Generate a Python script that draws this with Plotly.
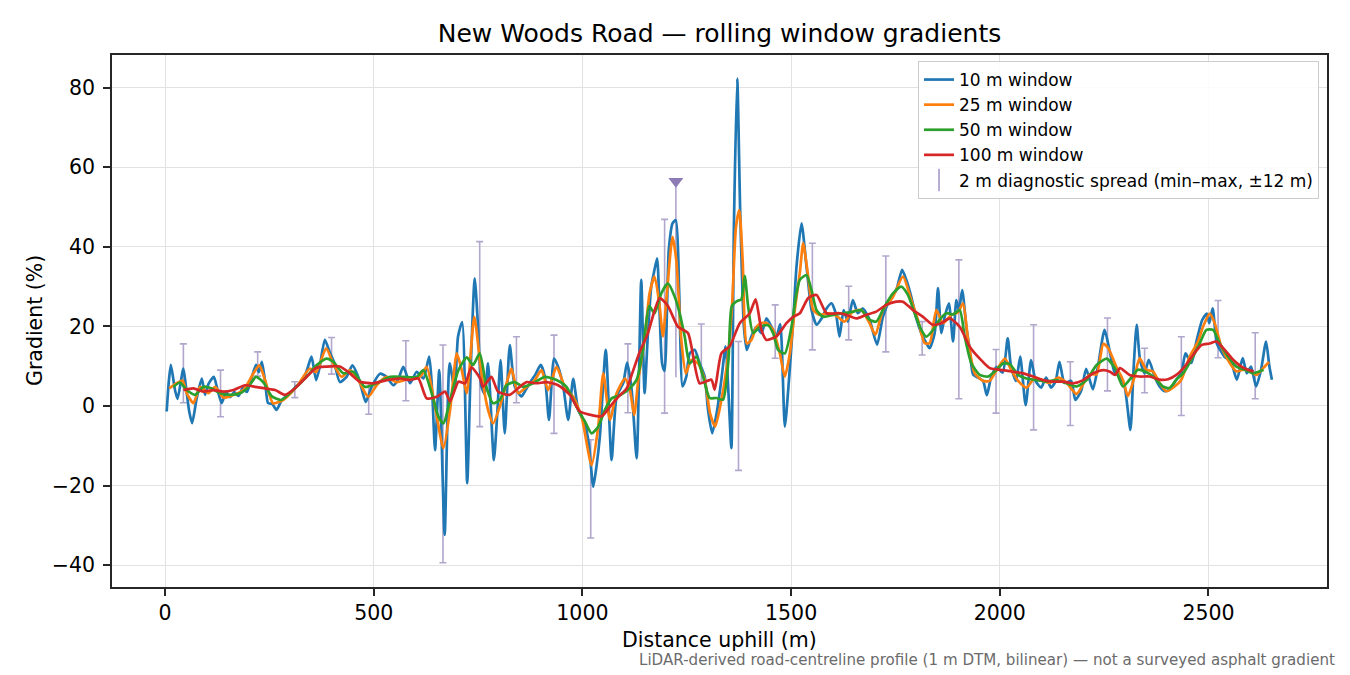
import plotly.graph_objects as go

# ---------------- data ----------------
w10_x = [4, 9, 14, 24, 30, 44, 50, 58, 65, 76, 88, 96, 104, 117, 126, 136, 146, 156, 166, 176, 186, 196, 206, 218, 225, 232,
         240, 247, 257, 267, 280, 299, 315, 331, 343, 351, 362, 370, 383, 395, 405, 419, 435, 449, 463, 472, 481, 495, 515,
         531, 547, 558, 571, 587, 603, 619, 633, 640, 647, 657, 670, 682, 694, 702, 712, 724, 732, 742, 750, 758, 766, 774,
         788, 796, 804, 814, 826, 838, 854, 864, 874, 888, 900, 910, 920, 932, 942, 954, 966, 978, 990, 1006, 1016, 1026,
         1034, 1042, 1056, 1070, 1082, 1098, 1107, 1118, 1130, 1141, 1149, 1157, 1165, 1171, 1179, 1185, 1191, 1197, 1207,
         1216, 1224, 1232, 1240, 1249, 1257, 1269, 1281, 1293, 1301, 1311, 1323, 1333, 1343, 1350, 1357, 1363, 1371, 1378,
         1387, 1394, 1405, 1417, 1429, 1441, 1453, 1465, 1474, 1485, 1495, 1505, 1513, 1525, 1537, 1549, 1561, 1573, 1585,
         1597, 1608, 1616, 1626, 1636, 1648, 1660, 1672, 1688, 1706, 1720, 1736, 1752, 1766, 1776, 1788, 1800, 1812, 1824,
         1832, 1844, 1852, 1860, 1868, 1878, 1888, 1896, 1902, 1910, 1920, 1928, 1936, 1948, 1960, 1969, 1979, 1992, 2007,
         2019, 2027, 2039, 2049, 2062, 2075, 2086, 2099, 2111, 2123, 2134, 2143, 2155, 2171, 2181, 2195, 2207, 2223, 2235,
         2251, 2263, 2275, 2287, 2299, 2313, 2320, 2328, 2336, 2347, 2357, 2371, 2383, 2395, 2407, 2423, 2435, 2445, 2459,
         2472, 2485, 2496, 2502, 2510, 2520, 2528, 2538, 2554, 2568, 2582, 2592, 2602, 2614, 2626, 2638, 2646, 2652]
w10_y = [-1.4, 6.0, 10.3, 4.0, 1.8, 9.4, 5.0, -1.4, -4.3, 2.0, 6.9, 2.8, 5.5, 7.3, 4.0, 0.7, 3.5, 2.2, 3.5, 2.5, 4.5, 3.5, 6.5,
         10.3, 8.5, 11.1, 6.0, 0.7, 0.5, -1.0, 1.5, 3.2, 5.0, 6.5, 10.0, 12.4, 6.5, 9.5, 16.6, 13.4, 11.0, 6.0, 7.3, 10.2,
         7.3, 4.0, 1.0, 4.8, 8.1, 7.3, 5.2, 6.5, 9.8, 5.7, 8.6, 6.9, 12.4, 4.0, -11.1, 9.0, -32.4, 10.7, 4.0, 17.4, 21.1,
         -19.4, 8.0, 32.1, 20.0, 4.9, 3.0, 10.7, -13.6, -2.0, 11.5, -6.9, 15.3, 4.9, 2.4, 4.0, 5.8, 8.0, 10.3, 7.4, -3.5,
         11.9, 9.8, 5.0, -3.5, 6.8, -1.0, -4.4, -10.0, -20.3, -15.0, -7.5, 14.1, -13.6, 2.4, 5.8, 10.9, 4.1, -13.2, 31.7,
         3.2, 18.3, 30.0, 33.3, 37.1, 23.3, 10.7, 8.8, 39.2, 45.9, 46.7, 28.3, 4.9, 7.4, 13.2, 14.1, 10.7, 7.4, -1.0, -6.9,
         -1.0, 6.6, 15.0, 3.2, -10.6, 45.0, 82.3, 49.2, 19.9, 14.1, 17.5, 19.9, 18.3, 22.0, 19.9, 17.5, 20.6, -5.2, 6.6,
         21.4, 35.0, 45.9, 35.0, 24.1, 20.4, 22.0, 24.5, 25.8, 22.9, 17.4, 24.1, 21.2, 26.6, 23.3, 24.5, 21.7, 15.4, 22.4,
         26.6, 29.1, 34.2, 31.7, 27.4, 22.0, 18.3, 15.8, 14.5, 18.3, 29.6, 18.3, 22.4, 25.8, 16.2, 26.6, 24.0, 29.1, 19.8,
         14.2, 7.9, 7.1, 6.3, 2.7, 7.1, 9.8, 8.4, 17.0, 9.8, 6.3, 12.4, 0.2, 11.5, 6.3, 4.6, 7.1, 4.6, 6.3, 11.1, 5.8, 6.3,
         1.5, 3.8, 9.3, 4.2, 9.8, 19.1, 14.0, 8.5, 7.4, 4.9, -6.0, 8.2, 20.4, 11.6, 8.2, 11.6, 7.4, 4.9, 3.7, 4.1, 6.6,
         8.2, 13.2, 10.8, 16.6, 21.6, 23.2, 20.8, 24.5, 15.7, 14.1, 12.4, 11.1, 6.6, 12.0, 8.2, 9.9, 4.9, 9.1, 16.2, 9.9, 6.6]

w25_x = [10, 26, 42, 52, 68, 84, 104, 120, 140, 164, 188, 212, 226, 240, 259, 283, 315, 347, 362, 386, 403, 423, 443, 463,
         487, 507, 531, 555, 587, 611, 627, 647, 667, 683, 699, 711, 723, 741, 758, 774, 786, 802, 818, 830, 846, 866, 886,
         902, 918, 938, 958, 978, 998, 1022, 1038, 1050, 1066, 1082, 1102, 1114, 1124, 1134, 1149, 1161, 1173, 1185, 1193,
         1203, 1216, 1225, 1237, 1248, 1261, 1277, 1293, 1306, 1318, 1330, 1346, 1358, 1368, 1376, 1384, 1394, 1405, 1417,
         1429, 1442, 1457, 1473, 1485, 1497, 1509, 1521, 1529, 1541, 1553, 1568, 1592, 1612, 1628, 1648, 1668, 1688, 1702,
         1720, 1744, 1768, 1788, 1804, 1820, 1832, 1848, 1864, 1884, 1900, 1912, 1924, 1940, 1960, 1976, 1992, 2012, 2028,
         2044, 2064, 2084, 2104, 2120, 2140, 2160, 2184, 2200, 2216, 2232, 2248, 2260, 2279, 2295, 2307, 2323, 2335, 2351,
         2367, 2383, 2399, 2419, 2435, 2455, 2475, 2487, 2503, 2515, 2531, 2551, 2567, 2583, 2599, 2615, 2631, 2645]
w25_y = [4.4, 5.6, 6.4, 3.2, 0.7, 4.8, 3.2, 4.8, 2.1, 2.8, 4.0, 8.2, 10.2, 6.4, 0.7, 1.5, 4.8, 9.4, 8.5, 14.5, 10.7, 7.3,
         9.0, 6.5, 2.3, 5.2, 7.3, 6.0, 6.9, 7.3, 9.8, -0.2, -10.6, -1.0, 13.2, 9.0, 3.2, 22.4, 8.2, -1.0, -4.4, -0.2, 5.6,
         9.4, 3.2, 4.8, 6.5, 9.0, 4.0, 9.8, 4.8, 2.3, -2.7, -14.9, -5.2, 8.2, -3.5, 3.2, 6.9, 4.0, -2.3, 6.6, 16.6, 28.3,
         32.5, 25.1, 17.5, 29.1, 42.5, 36.6, 16.6, 8.2, 11.6, 10.7, 6.6, -1.9, -5.2, -0.2, 10.0, 24.2, 45.0, 49.2, 36.6,
         15.7, 16.6, 19.9, 20.8, 20.8, 19.1, 13.2, 7.4, 13.2, 24.2, 33.5, 40.9, 32.5, 24.1, 22.9, 23.3, 22.4, 21.2, 23.7,
         24.1, 20.8, 17.9, 24.1, 27.4, 32.5, 26.6, 21.6, 15.8, 15.8, 24.1, 20.8, 22.9, 23.5, 25.8, 16.6, 8.2, 6.3, 6.3, 8.9,
         11.9, 8.9, 6.3, 4.6, 7.1, 6.3, 5.8, 7.1, 5.8, 3.0, 5.5, 8.0, 8.0, 15.6, 14.5, 9.9, 6.6, 2.5, 7.4, 12.0, 9.1, 8.7,
         5.8, 3.7, 4.9, 6.6, 12.4, 16.2, 19.9, 23.2, 20.8, 14.9, 10.8, 8.7, 9.1, 8.7, 7.8, 9.5, 11.1]

w50_x = [20, 36, 52, 72, 92, 112, 132, 156, 180, 200, 218, 236, 256, 279, 307, 339, 363, 387, 403, 427, 451, 479, 507, 539,
         571, 603, 619, 639, 655, 667, 683, 703, 723, 738, 754, 770, 786, 802, 818, 838, 858, 882, 910, 938, 962, 986, 1006,
         1022, 1038, 1054, 1070, 1090, 1113, 1130, 1145, 1160, 1173, 1189, 1205, 1221, 1233, 1245, 1257, 1273, 1289, 1305,
         1321, 1337, 1350, 1358, 1371, 1381, 1389, 1397, 1409, 1425, 1445, 1457, 1469, 1485, 1501, 1513, 1521, 1537, 1549,
         1561, 1577, 1601, 1625, 1649, 1668, 1688, 1704, 1724, 1744, 1764, 1780, 1796, 1812, 1824, 1840, 1856, 1872, 1888,
         1904, 1916, 1932, 1952, 1972, 1992, 2008, 2024, 2044, 2064, 2088, 2112, 2136, 2160, 2184, 2208, 2232, 2256, 2276,
         2295, 2311, 2331, 2347, 2367, 2391, 2407, 2423, 2439, 2459, 2479, 2495, 2511, 2527, 2547, 2567, 2587, 2607, 2623,
         2632]
w50_y = [4.8, 5.9, 4.0, 2.8, 4.8, 4.4, 3.2, 2.8, 3.2, 4.8, 7.3, 5.9, 2.4, 1.5, 4.0, 7.3, 10.2, 11.9, 11.1, 8.2, 8.6, 4.8,
         5.7, 7.3, 7.3, 7.3, 9.0, 3.2, -2.7, -4.4, 1.5, 9.0, 12.2, 10.3, 13.2, 4.8, 0.7, 1.5, 5.2, 6.0, 4.8, 5.7, 7.3, 6.5,
         4.8, -0.2, -3.9, -6.9, -5.2, -1.0, 1.9, 2.7, 4.4, 6.6, 14.1, 25.1, 23.3, 28.3, 30.8, 27.5, 23.3, 17.5, 10.7, 12.4,
         7.4, 2.0, 2.0, 1.6, 11.6, 25.1, 26.4, 26.8, 32.7, 25.1, 18.3, 19.9, 20.3, 18.3, 14.1, 13.2, 19.9, 28.3, 31.7,
         32.9, 29.1, 24.1, 22.4, 22.9, 23.3, 23.7, 24.1, 21.7, 21.2, 25.0, 28.3, 30.0, 27.9, 23.3, 19.1, 17.4, 19.1, 21.7,
         23.3, 23.0, 24.1, 17.4, 10.7, 7.8, 7.4, 9.0, 10.7, 10.5, 7.8, 6.9, 6.5, 6.1, 6.5, 5.7, 4.9, 6.5, 10.3, 11.9, 9.5,
         4.9, 6.6, 9.1, 8.7, 7.4, 4.9, 4.5, 6.6, 8.2, 11.6, 15.7, 19.1, 19.1, 15.7, 12.4, 9.9, 9.1, 8.2, 8.7, 9.1]

w100_x = [44, 68, 92, 116, 140, 164, 192, 216, 240, 264, 287, 311, 339, 363, 387, 419, 443, 467, 499, 531, 563, 587, 607,
          627, 651, 671, 683, 703, 719, 734, 755, 762, 782, 798, 826, 850, 866, 890, 914, 942, 970, 994, 1018, 1046, 1066,
          1086, 1106, 1118, 1137, 1157, 1185, 1205, 1229, 1253, 1281, 1309, 1317, 1333, 1353, 1377, 1401, 1415, 1429, 1441,
          1465, 1489, 1505, 1521, 1541, 1561, 1585, 1616, 1632, 1656, 1680, 1704, 1728, 1752, 1768, 1792, 1816, 1840, 1860,
          1880, 1904, 1928, 1952, 1976, 2008, 2032, 2056, 2080, 2104, 2128, 2152, 2176, 2200, 2224, 2248, 2264, 2276, 2288,
          2311, 2335, 2359, 2383, 2403, 2423, 2443, 2463, 2483, 2503, 2519, 2539, 2559, 2579, 2595, 2608]
w100_y = [4.0, 4.4, 3.6, 4.0, 3.6, 4.0, 5.2, 4.8, 4.4, 4.0, 2.8, 4.4, 7.3, 9.6, 9.9, 9.9, 8.2, 6.1, 5.7, 6.5, 6.9, 6.5, 6.9,
          1.9, 2.3, 3.6, 1.1, 6.1, 5.7, 9.7, 6.9, 4.8, 7.3, 3.6, 2.8, 4.8, 6.0, 5.7, 6.0, 5.2, 2.8, -1.4, -2.2, -2.6, -0.2,
          2.3, 4.4, 7.8, 13.5, 18.3, 27.1, 25.1, 19.9, 18.3, 5.7, 6.6, 4.1, 13.2, 15.0, 20.8, 23.3, 26.8, 19.1, 16.6, 17.5,
          20.8, 22.4, 23.3, 27.1, 27.9, 23.3, 23.3, 22.9, 22.0, 22.9, 23.7, 25.4, 26.2, 26.2, 24.1, 22.4, 20.4, 20.8, 22.0,
          19.9, 14.9, 11.9, 9.5, 9.0, 8.6, 8.2, 7.4, 6.5, 6.1, 6.1, 5.7, 6.5, 8.2, 9.0, 8.6, 7.8, 9.5, 7.8, 7.4, 7.4, 6.6,
          6.7, 7.8, 9.9, 12.8, 15.3, 15.7, 16.2, 14.1, 11.6, 9.9, 9.1, 8.7]

spread_x = [44, 133, 222, 311, 399, 488, 577, 666, 754, 842, 932, 1020, 1109, 1197, 1285, 1374, 1462, 1551, 1638, 1727,
            1814, 1902, 1991, 2081, 2169, 2258, 2347, 2435, 2523, 2612]
spread_min = [0.8, -2.7, 7.5, 2.1, 8.0, -2.1, 1.3, -39.4, -5.2, 0.8, -6.9, -33.2, -1.7, -1.8, 5.7, -16.2, 12.0, 14.1, 16.6,
              13.6, 12.8, 1.8, -1.8, -6.0, -4.9, 3.8, 3.3, -2.4, 12.1, 1.8]
spread_max = [15.6, 9.0, 13.6, 6.1, 17.2, 5.7, 16.4, 15.3, 41.3, 17.4, 17.8, -8.5, 15.6, 46.9, 20.6, 16.2, 25.4, 40.9,
              30.1, 37.7, 21.2, 36.7, 14.2, 20.4, 11.1, 22.1, 14.5, 17.4, 26.5, 18.4]

steep_x = [1224]
steep_min = [7.2]
steep_max = [56.5]

# ---------------- styling ----------------
FONT = "DejaVu Sans"
C10, C25, C50, C100 = "#1f77b4", "#ff7f0e", "#2ca02c", "#d62728"
CBAR = "#b1a6cc"
CMARK = "#8c7bb5"

# page offset of the plot div (browser body margin)
OFF = 8
W, H = 1350, 675
L, R, T, B = 112 - OFF, W + OFF - 1327, 55 - OFF, H + OFF - 587
PW, PH = W - L - R, H - T - B


def px_x(p):  # page pixel x -> paper coordinate
    return (p - OFF - L) / PW


def px_y(p):  # page pixel y -> paper coordinate
    return 1 - (p - OFF - T) / PH


fig = go.Figure()

# diagnostic spread bars (drawn underneath)
fig.add_trace(go.Scatter(
    x=spread_x, y=spread_min, mode="markers",
    marker=dict(size=1, opacity=0, color=CBAR),
    error_y=dict(type="data", symmetric=False,
                 array=[hi - lo for lo, hi in zip(spread_min, spread_max)],
                 arrayminus=[0] * len(spread_min),
                 color=CBAR, thickness=1.6, width=3.5),
    showlegend=False, hoverinfo="skip"))
fig.add_trace(go.Scatter(
    x=steep_x, y=steep_min, mode="markers",
    marker=dict(size=1, opacity=0, color=CBAR),
    error_y=dict(type="data", symmetric=False,
                 array=[hi - lo for lo, hi in zip(steep_min, steep_max)],
                 arrayminus=[0] * len(steep_min),
                 color=CBAR, thickness=1.6, width=0),
    showlegend=False, hoverinfo="skip"))
fig.add_trace(go.Scatter(
    x=steep_x, y=steep_max, mode="markers",
    marker=dict(symbol="triangle-down", size=13, color=CMARK),
    showlegend=False, hoverinfo="skip"))

line_kw = dict(shape="spline", smoothing=0.6)
LW = 2.7
fig.add_trace(go.Scatter(x=w10_x, y=w10_y, mode="lines", name="10 m window",
                         line=dict(color=C10, width=LW, **line_kw)))
fig.add_trace(go.Scatter(x=w25_x, y=w25_y, mode="lines", name="25 m window",
                         line=dict(color=C25, width=LW, **line_kw)))
fig.add_trace(go.Scatter(x=w50_x, y=w50_y, mode="lines", name="50 m window",
                         line=dict(color=C50, width=LW, **line_kw)))
fig.add_trace(go.Scatter(x=w100_x, y=w100_y, mode="lines", name="100 m window",
                         line=dict(color=C100, width=LW, **line_kw)))
# legend entry for the spread bars
fig.add_trace(go.Scatter(x=[None], y=[None], mode="markers",
                         name="2 m diagnostic spread (min–max, ±12 m)",
                         marker=dict(symbol="line-ns-open", size=16, color=CBAR,
                                     line=dict(width=1.8, color=CBAR))))

axis_common = dict(showline=True, linecolor="#262626", linewidth=1.6, mirror=True,
                   ticks="outside", ticklen=7, tickwidth=1.6, tickcolor="#262626",
                   showgrid=True, gridcolor="#e2e2e2", gridwidth=1.3, zeroline=False,
                   tickfont=dict(family=FONT, size=20.5, color="black"))

fig.update_layout(
    width=W, height=H,
    margin=dict(l=L, r=R, t=T, b=B),
    paper_bgcolor="white", plot_bgcolor="white",
    font=dict(family=FONT, color="black"),
    title=dict(text="New Woods Road — rolling window gradients",
               font=dict(family=FONT, size=25, color="black"),
               x=0.5, xref="paper", xanchor="center",
               y=1 - (33 - OFF) / H, yref="container", yanchor="middle"),
    xaxis=dict(range=[-127, 2784], tickvals=[0, 500, 1000, 1500, 2000, 2500], **axis_common),
    yaxis=dict(range=[-45.5, 88.2], tickvals=[-40, -20, 0, 20, 40, 60, 80],
               ticklabelstandoff=4, **axis_common),
    legend=dict(x=px_x(1319), y=px_y(61), xanchor="right", yanchor="top",
                bgcolor="rgba(255,255,255,0.85)", bordercolor="#cccccc", borderwidth=1,
                font=dict(family=FONT, size=17, color="black"), tracegroupgap=0,
                itemwidth=30),
    annotations=[
        dict(text="Distance uphill (m)", x=0.5, xref="paper", y=px_y(640), yref="paper",
             xanchor="center", yanchor="middle", showarrow=False,
             font=dict(family=FONT, size=20.5, color="black")),
        dict(text="Gradient (%)", x=px_x(35), xref="paper", y=px_y(321), yref="paper",
             xanchor="center", yanchor="middle", textangle=-90, showarrow=False,
             font=dict(family=FONT, size=20.5, color="black")),
        dict(text="LiDAR-derived road-centreline profile (1 m DTM, bilinear) — not a surveyed asphalt gradient",
             x=px_x(1337), xref="paper", y=px_y(660), yref="paper",
             xanchor="right", yanchor="middle", showarrow=False,
             font=dict(family=FONT, size=15.1, color="#6b6b6b")),
    ],
)

fig.write_html("out.html")
